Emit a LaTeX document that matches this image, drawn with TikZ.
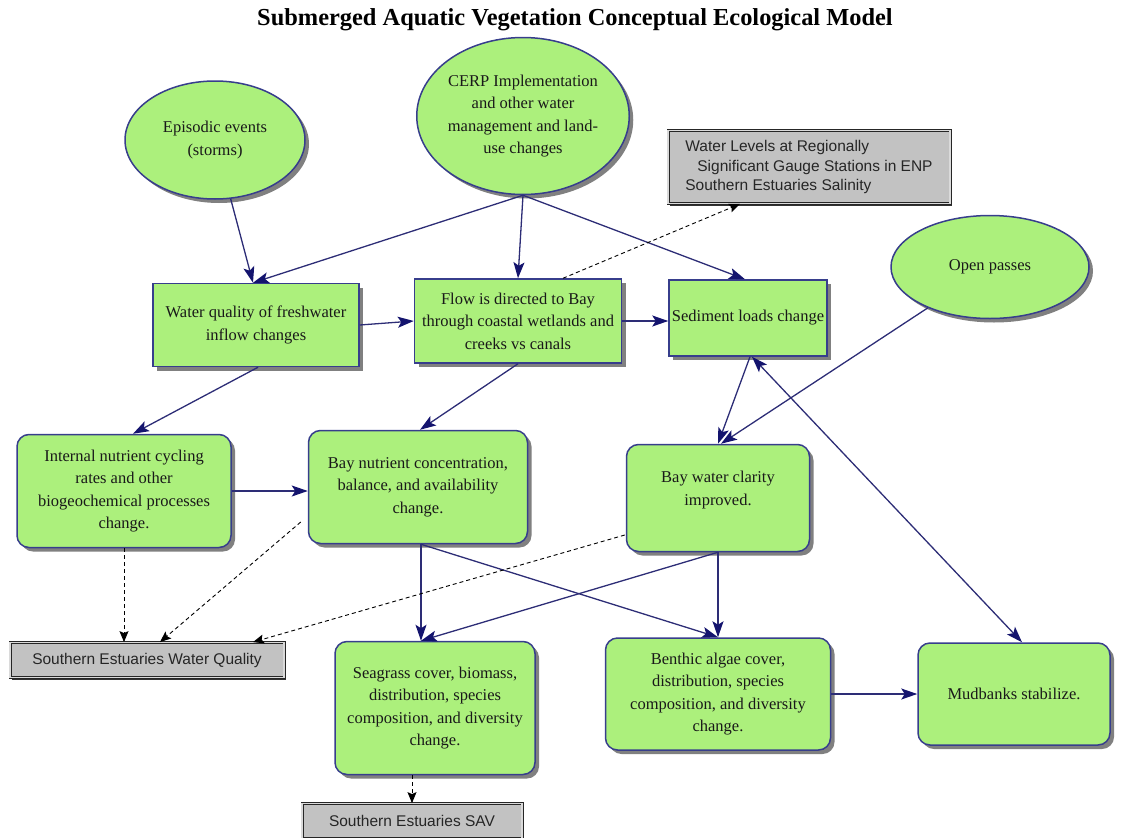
\documentclass[tikz,border=0pt]{standalone}
\usepackage{fontspec}
\setmainfont{Liberation Serif}
\newfontfamily\boxsans{Liberation Sans}
\usetikzlibrary{shapes.geometric,shadows,arrows.meta,calc}

\definecolor{leaf}{RGB}{172,240,124}
\definecolor{rim}{RGB}{55,62,140}
\definecolor{linkcol}{RGB}{45,45,118}
\definecolor{tipcol}{RGB}{20,20,110}
\definecolor{tagfill}{RGB}{194,194,194}

\tikzset{
  x=1pt, y=-1pt,
  nodetext/.style={font=\fontsize{16.5}{22.5}\selectfont, align=center, text=black!90},
  greenbase/.style={nodetext, fill=leaf, draw=rim, line width=1.5pt,
    drop shadow={shadow xshift=4pt, shadow yshift=-4pt, fill=black!50, opacity=1}},
  oval/.style={greenbase, ellipse, inner sep=0pt},
  squarebox/.style={greenbase, rectangle, inner sep=0pt},
  roundbox/.style={greenbase, rectangle, rounded corners=12pt, inner sep=0pt},
  tag/.style={rectangle, fill=tagfill, draw=black!85, line width=0.8pt,
    double=tagfill!60, double distance=1.4pt, inner sep=0pt,
    font=\boxsans\fontsize{15.5}{19.5}\selectfont, text=black!85,
    drop shadow={shadow xshift=1.5pt, shadow yshift=-2pt, fill=black!80, opacity=1}},
  link/.style={draw=linkcol, line width=1.3pt,
    -{Stealth[length=16pt, width=11pt, inset=3.5pt, fill=tipcol, color=tipcol]}},
  twoway/.style={draw=linkcol, line width=1.3pt,
    {Stealth[length=16pt, width=11pt, inset=3.5pt, fill=tipcol, color=tipcol]}-{Stealth[length=16pt, width=11pt, inset=3.5pt, fill=tipcol, color=tipcol]}},
  indicator/.style={draw=black, line width=0.9pt, dash pattern=on 4pt off 3pt,
    -{Stealth[length=11pt, width=9pt, inset=2pt]}},
}

\begin{document}
\begin{tikzpicture}
\useasboundingbox (0,0) rectangle (1122,838);

% heading
\node[font=\bfseries\fontsize{24.4}{28}\selectfont] (title) at (575,20)
  {Submerged Aquatic Vegetation Conceptual Ecological Model};

% drivers
\node[oval, minimum width=180pt, minimum height=118pt] (ep) at (215,140)
  {Episodic events\\(storms)};
\node[oval, minimum width=170pt, minimum height=157pt] (cerp) at (523,116)
  {CERP Implementation\\and other water\\management and land-\\use changes};
\node[oval, minimum width=198pt, minimum height=103pt] (op) at (990,267)
  {Open passes};

% performance measure tags
\node[tag, minimum width=282pt, minimum height=73pt, align=left] (wl) at (809,167)
  {Water Levels at Regionally\\\hspace*{12pt}Significant Gauge Stations in ENP\\Southern Estuaries Salinity};
\node[tag, minimum width=274pt, minimum height=35pt] (sewq) at (147,660)
  {Southern Estuaries Water Quality};
\node[tag, minimum width=220pt, minimum height=35pt] (sav) at (412,821)
  {Southern Estuaries SAV};

% stressors
\node[squarebox, minimum width=206pt, minimum height=83pt] (wqf) at (256,325)
  {Water quality of freshwater\\inflow changes};
\node[squarebox, minimum width=207pt, minimum height=84pt] (flow) at (518,321)
  {Flow is directed to Bay\\through coastal wetlands and\\creeks vs canals};
\node[squarebox, minimum width=158pt, minimum height=76pt] (sed) at (748,318)
  {Sediment loads change};

% effects
\node[roundbox, minimum width=214pt, minimum height=113pt] (inc) at (124,491)
  {Internal nutrient cycling\\rates and other\\biogeochemical processes\\change.};
\node[roundbox, minimum width=219pt, minimum height=113pt] (bnc) at (418,487)
  {Bay nutrient concentration,\\balance, and availability\\change.};
\node[roundbox, minimum width=183pt, minimum height=107pt] (bwc) at (718,498) {};
\node[nodetext] (bwctext) at (718,490) {Bay water clarity\\improved.};

% attributes
\node[roundbox, minimum width=200pt, minimum height=133pt] (sg) at (435,708)
  {Seagrass cover, biomass,\\distribution, species\\composition, and diversity\\change.};
\node[roundbox, minimum width=225pt, minimum height=112pt] (ba) at (718,694)
  {Benthic algae cover,\\distribution, species\\composition, and diversity\\change.};
\node[roundbox, minimum width=192pt, minimum height=102pt] (mud) at (1014,694)
  {Mudbanks stabilize.};

% causal links
\draw[link] (ep) -- ([xshift=-3pt]wqf.north);
\draw[link] (cerp.south) -- ([xshift=-3pt]wqf.north);
\draw[link] (cerp.south) -- (flow.north);
\draw[link] (cerp.south) -- ([xshift=-3pt]sed.north);
\draw[link] (wqf.east) -- (flow.west);
\draw[link] (flow.east) -- (flow.east -| sed.west);
\draw[link] ([xshift=2pt]wqf.south) -- ([xshift=9pt]inc.north);
\draw[link] (flow.south) -- ([xshift=2pt]bnc.north);
\draw[link] ([xshift=2pt]sed.south) -- (bwc.north);
\draw[link] (op) -- ([xshift=3pt]bwc.north);
\draw[twoway] ([xshift=4pt]sed.south) -- ([xshift=8pt]mud.north);
\draw[link] (inc.east) -- (inc.east -| bnc.west);
\draw[link] ([xshift=3pt]bnc.south) -- ([xshift=-14pt]sg.north);
\draw[link] ([xshift=3pt]bnc.south) -- (ba.north);
\draw[link] (bwc.south) -- ([xshift=-14pt]sg.north);
\draw[link] (bwc.south) -- (ba.north);
\draw[link] (ba.east) -- (ba.east -| mud.west);

% indicator links
\draw[indicator] ([xshift=45pt]flow.north) -- ([xshift=-69pt]wl.south);
\draw[indicator] (inc.south) -- (inc.south |- sewq.north);
\draw[indicator] ([xshift=-7pt, yshift=-35pt]bnc.west) -- ([xshift=13pt]sewq.north);
\draw[indicator] ([xshift=-1pt, yshift=-37pt]bwc.west) -- ([xshift=106pt]sewq.north);
\draw[indicator] (sav.north |- sg.south) -- (sav.north);
\end{tikzpicture}
\end{document}
